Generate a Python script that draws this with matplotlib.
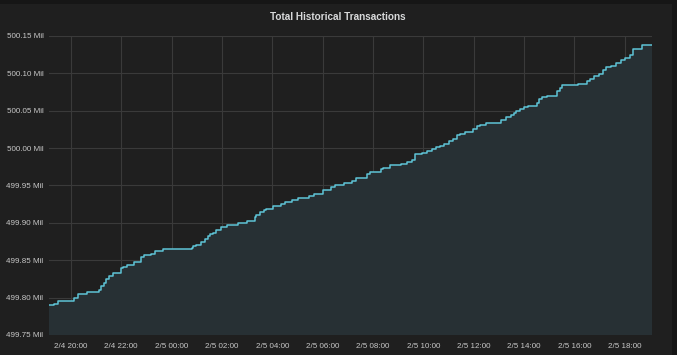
import matplotlib
matplotlib.use("Agg")
import matplotlib.pyplot as plt
import matplotlib.dates as mdates
from matplotlib.patches import Rectangle
from datetime import datetime

# step start times and total transactions (millions)
times = [
    "2/4 19:08", "2/4 19:19", "2/4 19:30", "2/4 20:07", "2/4 20:17", "2/4 20:39",
    "2/4 21:07", "2/4 21:13", "2/4 21:19", "2/4 21:25", "2/4 21:31", "2/4 21:41",
    "2/4 21:59", "2/4 22:05", "2/4 22:13", "2/4 22:31", "2/4 22:48", "2/4 22:55",
    "2/4 23:11", "2/4 23:20", "2/4 23:40", "2/5 00:48", "2/5 00:51", "2/5 00:59",
    "2/5 01:11", "2/5 01:19", "2/5 01:27", "2/5 01:31", "2/5 01:39", "2/5 01:47",
    "2/5 01:59", "2/5 02:11", "2/5 02:39", "2/5 02:59", "2/5 03:18", "2/5 03:22",
    "2/5 03:30", "2/5 03:41", "2/5 03:45", "2/5 04:01", "2/5 04:20", "2/5 04:30",
    "2/5 04:48", "2/5 05:02", "2/5 05:28", "2/5 05:39", "2/5 06:00", "2/5 06:19",
    "2/5 06:29", "2/5 06:51", "2/5 07:09", "2/5 07:19", "2/5 07:47", "2/5 07:52",
    "2/5 08:19", "2/5 08:23", "2/5 08:40", "2/5 09:08", "2/5 09:20", "2/5 09:32",
    "2/5 09:40", "2/5 09:58", "2/5 10:09", "2/5 10:20", "2/5 10:30", "2/5 10:39",
    "2/5 10:50", "2/5 11:02", "2/5 11:11", "2/5 11:21", "2/5 11:27", "2/5 11:39",
    "2/5 11:59", "2/5 12:07", "2/5 12:15", "2/5 12:29", "2/5 13:06", "2/5 13:18",
    "2/5 13:29", "2/5 13:36", "2/5 13:42", "2/5 13:50", "2/5 14:00", "2/5 14:10",
    "2/5 14:30", "2/5 14:36", "2/5 14:43", "2/5 14:54", "2/5 15:19", "2/5 15:25",
    "2/5 15:31", "2/5 16:09", "2/5 16:29", "2/5 16:37", "2/5 16:47", "2/5 16:59",
    "2/5 17:08", "2/5 17:15", "2/5 17:28", "2/5 17:40", "2/5 17:50", "2/5 18:00",
    "2/5 18:12", "2/5 18:20", "2/5 18:40", "2/5 19:05",
]
values = [
    499.790, 499.792, 499.795, 499.800, 499.805, 499.808,
    499.810, 499.815, 499.819, 499.825, 499.829, 499.833,
    499.839, 499.841, 499.844, 499.847, 499.854, 499.857,
    499.859, 499.863, 499.865, 499.867, 499.869, 499.871,
    499.874, 499.878, 499.882, 499.885, 499.887, 499.891,
    499.895, 499.897, 499.900, 499.903, 499.908, 499.911,
    499.914, 499.917, 499.918, 499.922, 499.925, 499.928,
    499.930, 499.933, 499.936, 499.939, 499.944, 499.948,
    499.950, 499.953, 499.956, 499.960, 499.965, 499.968,
    499.972, 499.974, 499.977, 499.979, 499.981, 499.984,
    499.992, 499.994, 499.996, 499.999, 500.001, 500.003,
    500.006, 500.009, 500.012, 500.017, 500.019, 500.021,
    500.025, 500.029, 500.031, 500.034, 500.038, 500.041,
    500.044, 500.047, 500.049, 500.052, 500.055, 500.056,
    500.061, 500.066, 500.069, 500.070, 500.076, 500.080,
    500.084, 500.086, 500.090, 500.092, 500.096, 500.099,
    500.105, 500.108, 500.110, 500.114, 500.118, 500.121,
    500.124, 500.133, 500.138, 500.138,
]
y_ticks = [499.75, 499.80, 499.85, 499.90, 499.95, 500.00, 500.05, 500.10, 500.15]

dates = [datetime.strptime("2018/" + t, "%Y/%m/%d %H:%M") for t in times]

plt.rcParams['font.family'] = ['Liberation Sans', 'DejaVu Sans']

fig = plt.figure(figsize=(6.77, 3.55), dpi=100)
fig.patch.set_facecolor("#161616")
panel = Rectangle((0, 0), 672 / 677, 351 / 355, transform=fig.transFigure,
                  facecolor="#1f1f1f", edgecolor="none", zorder=-10)
fig.patches.append(panel)

ax = fig.add_axes([49 / 677, 20 / 355, 603 / 677, 299 / 355])
ax.set_zorder(1)
ax.set_facecolor("#1f1f1f")

ax.fill_between(dates, values, 499.75, step="post", color="#273034", linewidth=0, zorder=2)
ax.step(dates, values, where="post", color="#5ec4d6", linewidth=1.1, zorder=3)

ax.set_xlim(dates[0], dates[-1])
ax.set_ylim(499.75, 500.15)
ax.set_yticks(y_ticks)
ax.set_yticklabels([f"{v:.2f} Mil" for v in y_ticks])

ax.xaxis.set_major_locator(mdates.HourLocator(byhour=range(0, 24, 2)))
ax.xaxis.set_major_formatter(mdates.DateFormatter("%-m/%-d %H:%M"))

ax.grid(True, color="#3a3a3a", linewidth=0.8, zorder=2.5)
for s in ax.spines.values():
    s.set_visible(False)
ax.tick_params(length=0, colors="#c8c8c8", labelsize=5.8)
ax.tick_params(axis="x", pad=6)
ax.tick_params(axis="y", pad=4)

fig.text(338 / 677, 1 - 17 / 355, "Total Historical Transactions", color="#d8d9da",
         fontsize=7.2, fontweight="bold", ha="center", va="center")

fig.savefig("out.png", dpi=100, facecolor=fig.get_facecolor())
